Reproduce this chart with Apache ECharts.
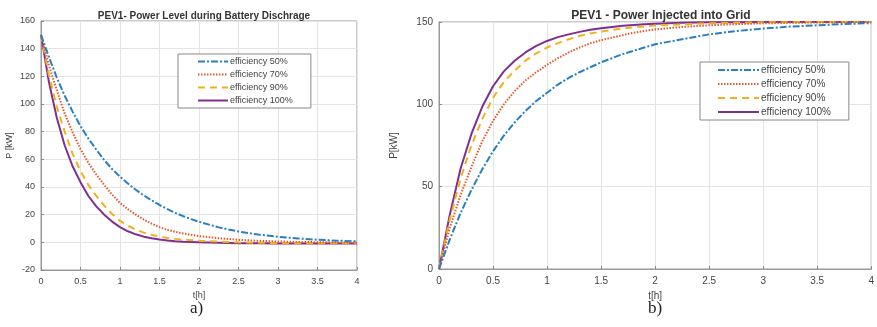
<!DOCTYPE html>
<html>
<head>
<meta charset="utf-8">
<script src="https://cdn.jsdelivr.net/npm/echarts@6/dist/echarts.min.js"></script>
<style>
  html, body { margin: 0; padding: 0; background: #fff; }
  #chart { width: 877px; height: 327px; }
</style>
</head>
<body>
<div id="chart"></div>
<script>
// Time samples [h]
const timeH = [0, 0.1, 0.2, 0.3, 0.4, 0.5, 0.6, 0.7, 0.8, 0.9, 1.0, 1.1, 1.2, 1.3, 1.4, 1.5,
               1.6, 1.7, 1.8, 1.9, 2.0, 2.25, 2.5, 2.75, 3.0, 3.25, 3.5, 3.75, 4.0];

const seriesNames = ['efficiency 50%', 'efficiency 70%', 'efficiency 90%', 'efficiency 100%'];

// a) power level during battery discharge [kW]
const discharge50  = [150, 134, 119, 106, 94.5, 84, 75, 67, 59.5, 53, 47.5, 42.5, 38, 34, 30.3, 27,
                      24, 21.3, 18.9, 16.8, 14.9, 10.8, 7.8, 5.6, 4, 2.8, 1.9, 1.2, 0.7];
const discharge70  = [150, 128, 110, 93, 79.5, 67.5, 57.5, 49, 41.5, 34.5, 28.5, 24, 20, 16.5, 13.5, 11,
                      9, 7.6, 6.4, 5.4, 4.5, 3, 1.8, 1.1, 0.6, 0.3, 0.1, -0.1, -0.3];
const discharge90  = [150, 121, 98, 80, 64, 51.5, 41.5, 33.5, 26.5, 20.5, 15.5, 12, 9.2, 7, 5.4, 4.2,
                      3.2, 2.5, 2, 1.5, 1.2, 0.5, 0, -0.3, -0.5, -0.6, -0.6, -0.6, -0.6];
const discharge100 = [150, 116, 90, 70, 55, 43.5, 33.5, 26, 20, 15, 11, 8, 5.8, 4.1, 2.9, 2,
                      1.3, 0.8, 0.4, 0.2, 0, -0.3, -0.6, -0.7, -0.8, -0.8, -0.8, -0.8, -0.8];

// b) power injected into grid [kW]
const grid50  = [0, 18, 34, 48, 60.5, 71.5, 81, 89, 96, 102, 107, 112, 116, 119.5, 122.5, 125.5,
                 128, 130.5, 132.5, 134.5, 136.5, 139.5, 142.5, 144.5, 146, 147.2, 148, 148.8, 149.3];
const grid70  = [0, 25, 45, 62, 77.5, 90, 100, 108, 114.5, 119.5, 124, 128, 131.5, 134.5, 137, 139,
                 140.5, 142, 143.5, 144.6, 145.5, 147, 148, 148.7, 149.2, 149.5, 149.7, 149.9, 150];
const grid90  = [0, 30, 55, 75, 91, 104, 113.5, 120.5, 126.5, 131, 134.5, 137.2, 139.5, 141.5, 143, 144.2,
                 145.2, 146.1, 146.8, 147.3, 147.8, 148.6, 149.2, 149.5, 149.8, 149.9, 150, 150, 150];
const grid100 = [0, 33, 61, 82, 98.5, 111, 120, 126.5, 131.5, 135.5, 138.5, 140.8, 142.5, 144, 145.3, 146.2,
                 147, 147.7, 148.2, 148.6, 149, 149.5, 149.8, 149.9, 150, 150, 150, 150, 150];

// Tick settings
const xTicks = { min: 0, max: 4, interval: 0.5 };
const yTicksA = { min: -20, max: 160, interval: 20 };
const yTicksB = { min: 0, max: 150, interval: 50 };

const colors = ['#2a7fc0', '#e05a2b', '#efb21e', '#7f2f90'];
const lineTypes = [[7, 2, 2, 2], [1.5, 1.5], [7, 5], 'solid'];

const FONT = 'Liberation Sans, Arial, sans-serif';

function pairs(ys) { return timeH.map((t, i) => [t, ys[i]]); }

function makeSeries(dataSets, axisIdx, width) {
  return dataSets.map((ys, k) => ({
    name: seriesNames[k],
    type: 'line',
    xAxisIndex: axisIdx,
    yAxisIndex: axisIdx,
    data: pairs(ys),
    smooth: false,
    symbol: 'none',
    silent: true,
    lineStyle: { color: colors[k], width: width, type: lineTypes[k] },
    itemStyle: { color: colors[k] },
    z: 10 - k
  }));
}

function xAxisCfg(gridIndex, fontSize, nameGap) {
  return {
    type: 'value', gridIndex: gridIndex,
    min: xTicks.min, max: xTicks.max, interval: xTicks.interval,
    name: 't[h]', nameLocation: 'middle', nameGap: nameGap,
    nameTextStyle: { color: '#444', fontSize: fontSize, fontFamily: FONT },
    axisLine: { show: true, onZero: false, lineStyle: { color: '#999', width: 1 } },
    axisTick: { show: true, inside: true, length: 3, lineStyle: { color: '#888' } },
    axisLabel: { color: '#444', fontSize: fontSize, fontFamily: FONT, margin: 7,
                 formatter: v => String(v) },
    splitLine: { show: true, lineStyle: { color: '#e4e4e4', width: 1 } }
  };
}

function yAxisCfg(gridIndex, ticks, name, fontSize, nameGap) {
  return {
    type: 'value', gridIndex: gridIndex,
    min: ticks.min, max: ticks.max, interval: ticks.interval,
    name: name, nameLocation: 'middle', nameGap: nameGap, nameRotate: 90,
    nameTextStyle: { color: '#444', fontSize: fontSize, fontFamily: FONT },
    axisLine: { show: true, lineStyle: { color: '#999', width: 1 } },
    axisTick: { show: true, inside: true, length: 3, lineStyle: { color: '#888' } },
    axisLabel: { color: '#444', fontSize: fontSize, fontFamily: FONT, margin: 6 },
    splitLine: { show: true, lineStyle: { color: '#e4e4e4', width: 1 } }
  };
}

function legendCfg(left, top, lineLen, fontSize, padLeft) {
  return {
    data: seriesNames, orient: 'vertical', left: left, top: top,
    padding: [3, 18, 3, padLeft], itemGap: 4, itemWidth: lineLen, itemHeight: 8,
    backgroundColor: '#fff', borderColor: '#888', borderWidth: 1,
    selectedMode: false,
    itemStyle: { opacity: 0 },
    lineStyle: { opacity: 1 },
    textStyle: { fontSize: fontSize, color: '#444', fontFamily: FONT, padding: [0, 0, 0, -3] }
  };
}

const chart = echarts.init(document.getElementById('chart'), null, { renderer: 'canvas' });

chart.setOption({
  animation: false,
  backgroundColor: '#fff',
  title: [
    { text: 'PEV1- Power Level during Battery Dischrage', left: 199, top: 6, textAlign: 'center',
      textStyle: { fontSize: 10, fontWeight: 'bold', color: '#333', fontFamily: FONT } },
    { text: 'PEV1 - Power Injected into Grid', left: 656, top: 5, textAlign: 'center',
      textStyle: { fontSize: 12, fontWeight: 'bold', color: '#333', fontFamily: FONT } }
  ],
  grid: [
    { left: 41, top: 21, width: 316, height: 249, show: true, borderColor: '#999', borderWidth: 1 },
    { left: 439, top: 22, width: 434, height: 247, show: true, borderColor: '#999', borderWidth: 1 }
  ],
  xAxis: [xAxisCfg(0, 9, 20), xAxisCfg(1, 10, 21)],
  yAxis: [yAxisCfg(0, yTicksA, 'P [kW]', 9, 27), yAxisCfg(1, yTicksB, 'P[kW]', 10, 40)],
  legend: [legendCfg(178, 54, 30, 9, 19), legendCfg(700, 62, 41, 10, 17)],
  graphic: [
    { type: 'text', left: 190, top: 300,
      style: { text: 'a)', font: '17px "Liberation Serif", "Times New Roman", serif', fill: '#222' } },
    { type: 'text', left: 648, top: 300,
      style: { text: 'b)', font: '17px "Liberation Serif", "Times New Roman", serif', fill: '#222' } }
  ],
  series: [
    ...makeSeries([discharge50, discharge70, discharge90, discharge100], 0, 2),
    ...makeSeries([grid50, grid70, grid90, grid100], 1, 2)
  ]
});
</script>
</body>
</html>
